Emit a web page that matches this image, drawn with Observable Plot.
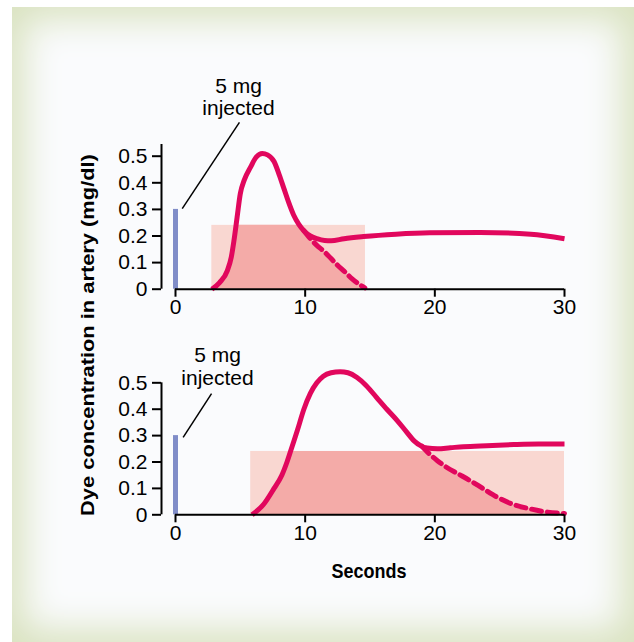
<!DOCTYPE html>
<html>
<head>
<meta charset="utf-8">
<script src="https://cdn.jsdelivr.net/npm/d3@7"></script>
<script src="https://cdn.jsdelivr.net/npm/@observablehq/plot@0.6"></script>
<style>
  html, body { margin: 0; padding: 0; background: #ffffff; }
  #wrap { position: relative; width: 634px; height: 642px; overflow: hidden; font-family: "Liberation Sans", Arial, sans-serif; }
  #frame { position: absolute; left: 12px; top: 7px; width: 622px; height: 635px;
    background: #fafbfd; box-shadow: inset 0 0 36px 12px #d9e2bf; }
  .panel { position: absolute; left: 0; }
  #ylabel { position: absolute; left: 88px; top: 335px; transform: translate(-50%, -50%) rotate(-90deg) scaleX(1.15);
    font-weight: bold; font-size: 19px; white-space: nowrap; color: #000; }
  #xlabel { position: absolute; left: 369px; top: 572px; transform: translate(-50%, -50%) scaleY(1.15);
    font-weight: bold; font-size: 18px; white-space: nowrap; color: #000; }
</style>
</head>
<body>
<div id="wrap">
  <div id="frame"></div>
  <div id="ylabel">Dye concentration in artery (mg/dl)</div>
  <div id="xlabel">Seconds</div>
</div>
<script>
// ---- data ----
const xTicks = [0, 10, 20, 30];
const yTicks = [0, 0.1, 0.2, 0.3, 0.4, 0.5];
const yTickLabels = ["0", "0.1", "0.2", "0.3", "0.4", "0.5"];
const doseHeight = 0.3;
const annotationText = "5 mg\ninjected";

// top panel
const topSolidX = [2.8, 3.4, 4.0, 4.3, 4.5, 4.75, 5.0, 5.3, 5.8, 6.2, 6.7, 7.1, 7.6, 8.0, 8.35, 8.7, 9.1, 9.5, 9.9, 10.4, 10.9, 11.5, 12.0, 13.0, 14.5, 17.0, 19.6, 23.5, 27.4, 30];
const topSolidY = [0, 0.025, 0.07, 0.12, 0.18, 0.27, 0.36, 0.41, 0.46, 0.495, 0.51, 0.505, 0.48, 0.43, 0.38, 0.33, 0.28, 0.245, 0.22, 0.2, 0.19, 0.183, 0.182, 0.19, 0.198, 0.207, 0.212, 0.213, 0.207, 0.19];
const topDashX = [9.9, 10.4, 10.9, 11.5, 12.0, 12.5, 13.0, 13.6, 14.3, 14.6];
const topDashY = [0.22, 0.19, 0.165, 0.14, 0.115, 0.09, 0.068, 0.04, 0.014, 0.005];
const topRectX = [2.8, 14.65];
const topRectTop = 0.24;
const topAnnot = {x: 4.86, y: 0.724, lx1: 4.93, ly1: 0.627, lx2: 0.52, ly2: 0.303};

// bottom panel
const botSolidX = [5.9, 6.8, 7.6, 8.2, 8.6, 9.0, 9.4, 9.9, 10.4, 10.9, 11.4, 12.0, 12.7, 13.3, 14.0, 14.7, 15.5, 16.3, 17.1, 17.8, 18.4, 18.9, 19.4, 20.2, 21.2, 22.2, 24.0, 26.1, 28.0, 30];
const botSolidY = [0, 0.04, 0.1, 0.15, 0.2, 0.26, 0.32, 0.4, 0.46, 0.5, 0.525, 0.538, 0.542, 0.538, 0.52, 0.49, 0.445, 0.4, 0.357, 0.315, 0.28, 0.262, 0.253, 0.25, 0.254, 0.258, 0.262, 0.266, 0.268, 0.268];
const botDashX = [19.0, 19.6, 20.2, 20.9, 21.8, 22.7, 23.7, 24.8, 26.0, 27.4, 28.7, 30];
const botDashY = [0.26, 0.23, 0.205, 0.18, 0.155, 0.13, 0.1, 0.067, 0.04, 0.022, 0.01, 0.005];
const botRectX = [5.8, 30];
const botRectTop = 0.24;
const botAnnot = {x: 3.24, y: 0.562, lx1: 2.78, ly1: 0.459, lx2: 0.59, ly2: 0.293};

// ---- styles ----
const curveColor = "#e1075d";
const rectColor = "#f9d7d1";
const areaColor = "#f4aba8";
const doseColor = "#808dc8";
const fontFamily = "'Liberation Sans', Arial, sans-serif";

function panel({solidX, solidY, dashX, dashY, rectX, rectTop, annot, axisTop, height, marginTop, marginBottom}) {
  const solid = solidX.map((x, i) => ({x, y: solidY[i]}));
  const dash = dashX.map((x, i) => ({x, y: dashY[i]}));
  const lastSolidX = dashX[0];
  const under = solid.filter(d => d.x < lastSolidX).concat(dash)
    .filter(d => d.x >= rectX[0] && d.x <= rectX[1])
    .map(d => ({x: d.x, y: Math.min(d.y, rectTop)}));
  const tickFmt = d => yTickLabels[yTicks.indexOf(d)];
  return Plot.plot({
    width: 634,
    height,
    marginLeft: 161,
    marginRight: 70,
    marginTop,
    marginBottom,
    style: {background: "transparent", fontFamily, fontSize: "21px", color: "#000", overflow: "visible"},
    x: {domain: [0, 30], range: [175, 564]},
    y: {domain: [0, 0.544]},
    marks: [
      Plot.rectY([rectX], {x1: d => d[0], x2: d => d[1], y1: 0, y2: rectTop, fill: rectColor}),
      Plot.areaY(under, {x: "x", y: "y", fill: areaColor, curve: "monotone-x"}),
      Plot.ruleX([0], {y1: 0, y2: doseHeight, stroke: doseColor, strokeWidth: 5}),
      Plot.link([annot], {x1: "lx1", y1: "ly1", x2: "lx2", y2: "ly2", stroke: "#000", strokeWidth: 1.5}),
      Plot.text([annot], {x: "x", y: "y", text: () => annotationText, lineHeight: 1.05, fontSize: 21, fill: "#000"}),
      Plot.line(dash, {x: "x", y: "y", stroke: curveColor, strokeWidth: 5, strokeDasharray: "10,6", curve: "monotone-x"}),
      Plot.line(solid, {x: "x", y: "y", stroke: curveColor, strokeWidth: 5, curve: "monotone-x", strokeLinecap: "butt"}),
      Plot.ruleY([0], {x1: xTicks[0], x2: xTicks[xTicks.length - 1], stroke: "#000", strokeWidth: 2}),
      Plot.ruleX([0], {y1: 0, y2: axisTop, dx: -14, stroke: "#000", strokeWidth: 2}),
      Plot.axisX({ticks: xTicks, tickSize: 8, tickPadding: 2, tickFormat: d => String(d), stroke: "#000", strokeWidth: 2, fontSize: 21, label: null}),
      Plot.axisY({ticks: yTicks, tickSize: 9, tickPadding: 5, tickFormat: tickFmt, stroke: "#000", strokeWidth: 2, fontSize: 21, label: null})
    ]
  });
}

const topPlot = panel({solidX: topSolidX, solidY: topSolidY, dashX: topDashX, dashY: topDashY,
  rectX: topRectX, rectTop: topRectTop, annot: topAnnot, axisTop: 0.544,
  height: 320, marginTop: 144, marginBottom: 31.3});
const botPlot = panel({solidX: botSolidX, solidY: botSolidY, dashX: botDashX, dashY: botDashY,
  rectX: botRectX, rectTop: botRectTop, annot: botAnnot, axisTop: 0.5,
  height: 322, marginTop: 50.7, marginBottom: 127.7});

topPlot.classList.add("panel");
botPlot.classList.add("panel");
topPlot.style.top = "0px";
botPlot.style.top = "320px";
topPlot.style.position = "absolute";
botPlot.style.position = "absolute";
const wrap = document.getElementById("wrap");
wrap.insertBefore(topPlot, document.getElementById("ylabel"));
wrap.insertBefore(botPlot, document.getElementById("ylabel"));
</script>
</body>
</html>
